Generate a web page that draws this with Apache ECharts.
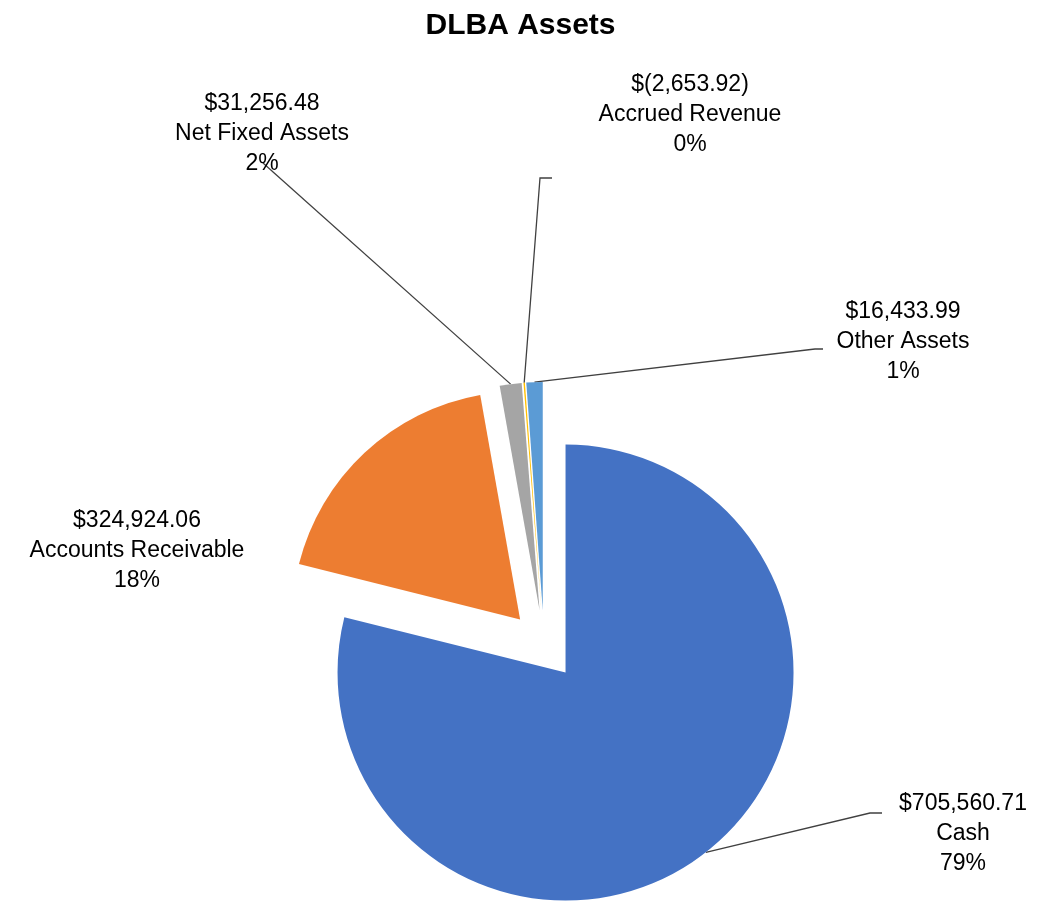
<!DOCTYPE html>
<html lang="en">
<head>
    <meta charset="UTF-8">
    <title>DLBA Assets</title>
    <script src="https://cdn.jsdelivr.net/npm/echarts@6/dist/echarts.min.js"></script>
    <style>
        html, body { margin: 0; padding: 0; background: #fff; }
    </style>
</head>
<body>
    <div id="pieChart" style="width: 1041px; height: 903px;"></div>
    <script>
        // data
        var categories = ['Cash', 'Accounts Receivable', 'Net Fixed Assets', 'Accrued Revenue', 'Other Assets'];
        var amounts = [705560.71, 324924.06, 31256.48, -2653.92, 16433.99];
        // slice share in percent (as drawn)
        var shares = [78.9, 18.3, 1.55, 0.1, 1.15];
        var colors = ['#4472C4', '#ED7D31', '#A5A5A5', '#FFC000', '#5B9BD5'];

        // pie geometry
        var pieCenter = [544, 645];
        var pieRadius = 228;
        var explode = 35;

        // label placement (center of each label block) and leader line bends, relative to label center
        var labelPos = [[963, 834], [137, 551], [262, 134], [690, 115], [903, 342]];
        var leaderBend = [[-93, -21, -81, -21], null, [1, 29, 1, 29], [-150, 63, -138, 63], [-88, 7, -80, 7]];

        function money(v) {
            var s = Math.abs(v).toLocaleString('en-US', { minimumFractionDigits: 2, maximumFractionDigits: 2 });
            return v < 0 ? '$(' + s + ')' : '$' + s;
        }

        var chart = echarts.init(document.getElementById('pieChart'));

        // exploded slices (no labels)
        var sliceData = categories.map(function (name, i) {
            return { name: name, value: shares[i], selected: true, itemStyle: { color: colors[i] } };
        });

        // invisible copy that carries the labels and leader lines
        var labelData = categories.map(function (name, i) {
            return {
                name: name,
                value: shares[i],
                amount: amounts[i],
                labelLine: { show: leaderBend[i] !== null }
            };
        });

        var fontFamily = 'Liberation Sans, Arial';

        chart.setOption({
            animation: false,
            title: {
                text: 'DLBA Assets',
                left: 'center',
                top: 6,
                textStyle: { fontFamily: fontFamily, fontSize: 30, fontWeight: 'bold', color: '#000' }
            },
            series: [{
                name: 'DLBA Assets',
                type: 'pie',
                center: pieCenter,
                radius: pieRadius,
                startAngle: 90,
                clockwise: true,
                selectedMode: 'multiple',
                selectedOffset: explode,
                itemStyle: { borderWidth: 0 },
                select: { itemStyle: { borderWidth: 0 } },
                emphasis: { disabled: true },
                label: { show: false },
                labelLine: { show: false },
                data: sliceData
            }, {
                name: 'labels',
                type: 'pie',
                center: pieCenter,
                radius: pieRadius,
                startAngle: 90,
                clockwise: true,
                silent: true,
                selectedMode: false,
                avoidLabelOverlap: false,
                itemStyle: { color: 'rgba(0,0,0,0)', borderWidth: 0 },
                emphasis: { disabled: true },
                label: {
                    show: true,
                    fontFamily: fontFamily,
                    fontSize: 23,
                    lineHeight: 30,
                    color: '#000',
                    align: 'center',
                    formatter: function (p) {
                        return money(p.data.amount) + '\n' + p.name + '\n' + Math.round(p.percent) + '%';
                    }
                },
                labelLine: {
                    show: true,
                    lineStyle: { color: '#404040', width: 1.3 }
                },
                labelLayout: function (params) {
                    var i = params.dataIndex;
                    var c = labelPos[i];
                    var out = { x: c[0], y: c[1], align: 'center', verticalAlign: 'middle' };
                    var b = leaderBend[i];
                    if (b && params.labelLinePoints) {
                        // start on the exploded slice edge, at its mid angle
                        var p0 = params.labelLinePoints[0];
                        var vx = p0[0] - pieCenter[0], vy = p0[1] - pieCenter[1];
                        var len = Math.sqrt(vx * vx + vy * vy) || 1;
                        out.labelLinePoints = [
                            [p0[0] + vx / len * explode, p0[1] + vy / len * explode],
                            [c[0] + b[0], c[1] + b[1]],
                            [c[0] + b[2], c[1] + b[3]]
                        ];
                    }
                    return out;
                },
                data: labelData
            }]
        });
    </script>
</body>
</html>
